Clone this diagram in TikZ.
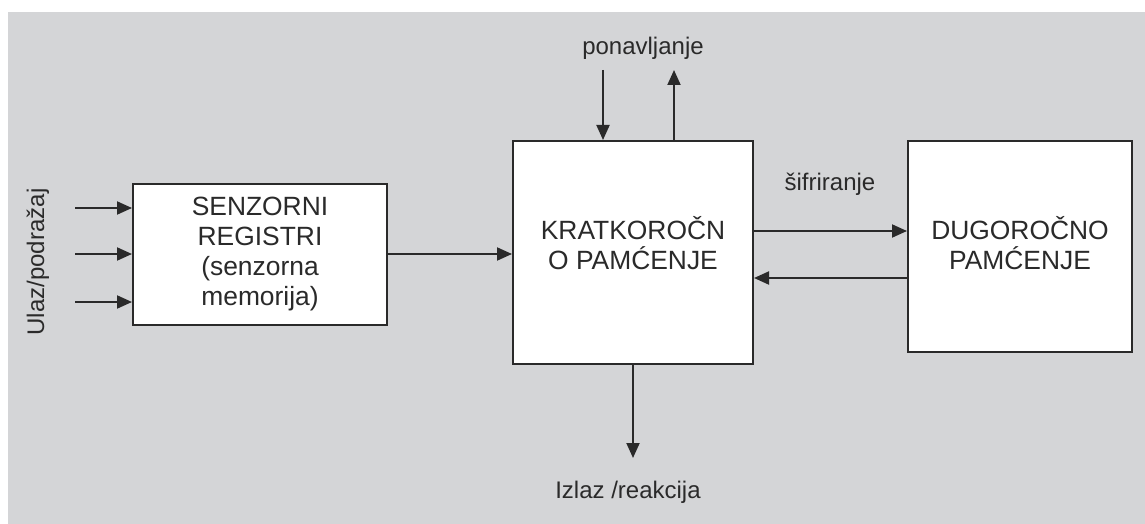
\documentclass[tikz,border=0pt]{standalone}
\usepackage{fontspec}
\setmainfont{Liberation Sans}
\usetikzlibrary{arrows.meta,positioning}
\definecolor{bggray}{HTML}{D4D5D7}
\definecolor{ink}{HTML}{2A2A2A}

\begin{document}
\begin{tikzpicture}[x=0.5pt, y=-0.5pt, >={Triangle[length=7.5pt,width=6.5pt]},
          store/.style={rectangle, draw=ink, fill=white, line width=1pt,
            align=center, text=ink, font=\fontsize{13.2}{15}\selectfont},
          flow/.style={->, draw=ink, line width=1pt},
          tag/.style={text=ink, font=\fontsize{12}{15}\selectfont, inner sep=0pt}]

          \useasboundingbox (0,0) rectangle (1145,524);
          \fill[bggray] (8,12) rectangle (1145,524);

          \node[store, minimum width=127pt, minimum height=70.5pt] (senz) at (260,254.5)
            {SENZORNI\\REGISTRI\\(senzorna\\memorija)};
          \node[store, minimum width=120pt, minimum height=111.5pt] (kratko) at (633,252.5)
            {KRATKOROČN\\O PAMĆENJE\\[-5pt]};
          \node[store, minimum width=112pt, minimum height=105.5pt] (dugo) at (1020,246.5)
            {DUGOROČNO\\PAMĆENJE\\[-11pt]};

          % ulazi
          \coordinate (in1) at (75,208);
          \coordinate (in2) at (75,254);
          \coordinate (in3) at (75,302);
          \foreach \i in {in1,in2,in3}
            \draw[flow] (\i) -- (\i -| senz.west);
          \node[tag, rotate=90] (ulaz) at (38,262) {Ulaz/podražaj};

          \draw[flow] (senz.east |- 0,254) -- (kratko.west |- 0,254);

          % ponavljanje
          \node[tag] (pon) at (643,48) {ponavljanje};
          \coordinate (pon-in) at (603,70);
          \coordinate (pon-out) at (674,70);
          \draw[flow] (pon-in) -- (pon-in |- kratko.north);
          \draw[flow] (pon-out |- kratko.north) -- (pon-out);

          % sifriranje
          \node[tag] (sif) at (830,184) {šifriranje};
          \draw[flow] (kratko.east |- 0,231) -- (dugo.west |- 0,231);
          \draw[flow] (dugo.west |- 0,278) -- (kratko.east |- 0,278);

          % izlaz
          \coordinate (out) at (633,458);
          \draw[flow] (kratko.south -| out) -- (out);
          \node[tag] (izlaz) at (628,492) {Izlaz /reakcija};
        \end{tikzpicture}
\end{document}
